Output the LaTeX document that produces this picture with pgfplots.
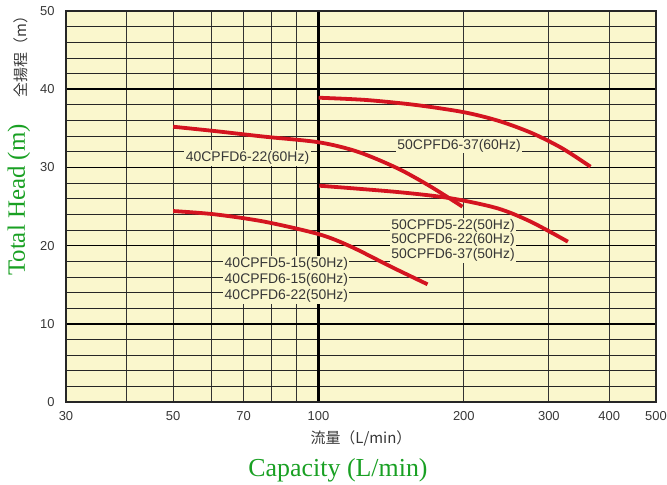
\documentclass[border=0pt]{standalone}
\usepackage{pgfplots}
\pgfplotsset{compat=1.18}
\usepackage{fontspec}
\setmainfont{Liberation Sans}
\newfontfamily\seriffont{Liberation Serif}
\newfontfamily\jpfont{Noto Sans CJK JP}
\definecolor{bg}{RGB}{250,247,205}
\definecolor{curve}{RGB}{212,20,32}
\definecolor{headgreen}{RGB}{25,160,35}
\definecolor{txt}{RGB}{55,55,55}

\begin{document}
\begin{tikzpicture}
\begin{axis}[
  name=ax, set layers,
  scale only axis, width=590bp, height=391bp,
  xmode=log, xmin=30, xmax=500, ymin=0, ymax=50,
  xtick={30,40,50,60,70,80,90,200,300,400,500},
  xticklabels={30,,50,,70,,,200,300,400,500},
  ytick={0,10,...,50},
  minor ytick={2,4,6,8,12,14,16,18,22,24,26,28,32,34,36,38,42,44,46,48},
  /pgf/number format/assume math mode=true,
  grid=both,
  major x grid style={black!80, line width=1bp},
  major y grid style={black, line width=1.5bp},
  minor y grid style={black!85, line width=0.75bp},
  major tick length=0pt, minor tick length=0pt,
  tick align=inside, tick pos=left,
  extra x ticks={100}, extra x tick labels={100},
  extra x tick style={grid=major, major x grid style={black, line width=2.2bp},
    major tick length=6bp, tick style={black, line width=3.5bp}},
  axis line style={black!85, line width=1.4bp},
  axis background/.style={fill=bg},
  tick label style={font=\fontsize{13}{13}\selectfont, text=txt},
  xticklabel style={yshift=-6bp},
  yticklabel style={xshift=-8bp},
  clip=false,
]
\node[fill=bg, inner sep=1.5bp, text=txt, font=\fontsize{14}{14}\selectfont] at (axis cs:71.3,31.2) {40CPFD6-22(60Hz)};
\node[fill=bg, inner sep=1bp, text=txt, font=\fontsize{14}{14}\selectfont] at (axis cs:195.5,32.8) {50CPFD6-37(60Hz)};
\node[fill=bg, inner sep=1.5bp, text=txt, align=center, font=\fontsize{14}{14.5}\selectfont] at (axis cs:190,20.7) {50CPFD5-22(50Hz)\\50CPFD6-22(60Hz)\\50CPFD6-37(50Hz)};
\node[fill=bg, inner sep=1.5bp, text=txt, align=center, font=\fontsize{14}{16}\selectfont] at (axis cs:85.8,15.6) {40CPFD5-15(50Hz)\\40CPFD6-15(60Hz)\\40CPFD6-22(50Hz)};

% 40CPFD6-22 (60Hz)
\addplot[curve, line width=3.8bp, smooth] coordinates {
  (50,35.2) (60.95,34.65) (77.3,33.93) (100.4,33.2) (120.6,32.0) (145.8,29.88) (170.9,27.53) (198.7,24.98)
};
% 50CPFD6-37 (60Hz)
\addplot[curve, line width=3.8bp, smooth] coordinates {
  (100.1,38.91) (125.5,38.62) (159.2,37.98) (200.3,37.05) (236.6,35.93) (277.3,34.36) (319.7,32.44) (365.9,30.09)
};
% 50CPFD5-22 / 50CPFD6-22 / 50CPFD6-37
\addplot[curve, line width=3.8bp, smooth] coordinates {
  (100.4,27.66) (145.8,26.85) (188,26.05) (234.7,24.77) (275.1,23.06) (328.5,20.5)
};
% 40CPFD5-15 / 40CPFD6-15 / 40CPFD6-22
\addplot[curve, line width=3.8bp, smooth] coordinates {
  (50,24.42) (60.95,24.0) (77.3,23.06) (100.4,21.44) (116.8,19.86) (141.3,17.3) (168.2,15.05)
};
\end{axis}
\node[rotate=90, text=headgreen, font=\seriffont\fontsize{25}{25}\selectfont]
  at ([xshift=-47bp, yshift=202bp]ax.south west) {Total Head (m)};
\node[rotate=90, text=txt, font=\jpfont\fontsize{15}{15}\selectfont]
  at ([xshift=-45bp, yshift=349bp]ax.south west) {全揚程（m）};
\node[text=txt, font=\jpfont\fontsize{15}{15}\selectfont]
  at ([xshift=295bp, yshift=-36bp]ax.south west) {流量（L/min）};
\node[text=headgreen, font=\seriffont\fontsize{26}{26}\selectfont]
  at ([xshift=272bp, yshift=-68bp]ax.south west) {Capacity (L/min)};
\pgfresetboundingbox
\path[use as bounding box] ([xshift=-66bp, yshift=-83bp]ax.south west) rectangle ([xshift=11bp, yshift=11bp]ax.north east);
\end{tikzpicture}
\end{document}
